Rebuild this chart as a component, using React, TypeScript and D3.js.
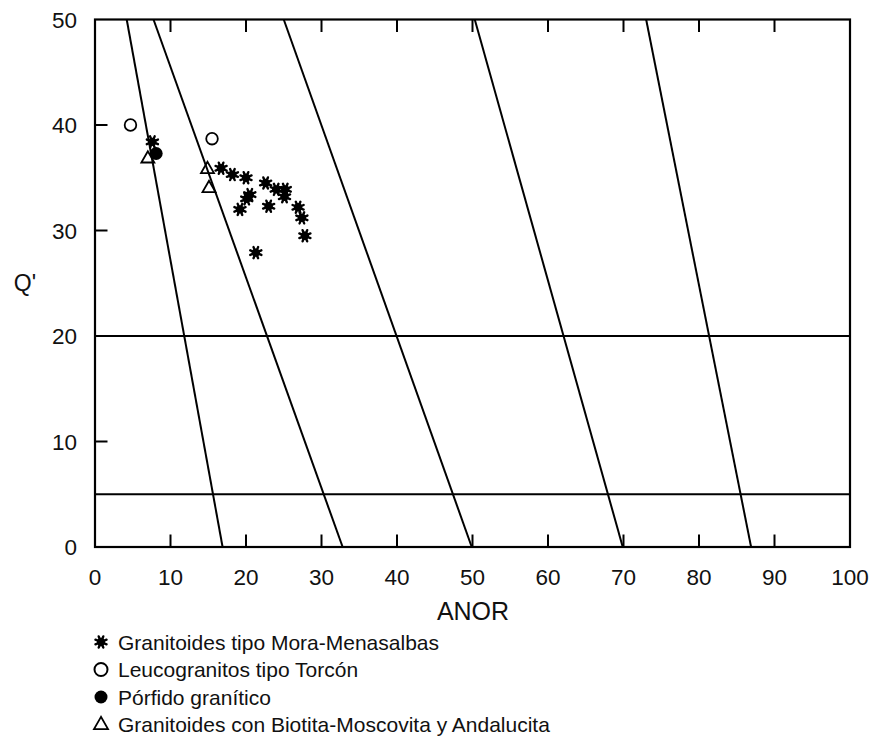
import React from "react";
import * as d3 from "d3";

// Field boundaries: ANOR value where each line meets Q'=50 (top) and Q'=0 (bottom)
const boundaryTop = [4.2, 7.75, 25.0, 50.3, 73.0];
const boundaryBottom = [16.9, 32.8, 49.9, 69.9, 86.9];
const horizontalQ = [20, 5];

const xTicks = [0, 10, 20, 30, 40, 50, 60, 70, 80, 90, 100];
const yTicks = [0, 10, 20, 30, 40, 50];

// [ANOR, Q']
const moraMenasalbas: [number, number][] = [
  [16.7, 35.9], [18.2, 35.3], [20.0, 35.0], [22.6, 34.5], [24.0, 33.9],
  [25.2, 33.9], [25.1, 33.2], [20.5, 33.4], [20.1, 33.0], [19.2, 32.0],
  [23.0, 32.3], [26.9, 32.2], [27.4, 31.2], [27.8, 29.5], [21.3, 27.9],
  [7.6, 38.4],
];
const torcon: [number, number][] = [[4.7, 40.0], [15.5, 38.7]];
const porfido: [number, number][] = [[8.1, 37.3]];
const biotitaMoscovita: [number, number][] = [[7.0, 36.8], [14.9, 35.8], [15.1, 34.0]];

const legendLabels = [
  "Granitoides tipo Mora-Menasalbas",
  "Leucogranitos tipo Torcón",
  "Pórfido granítico",
  "Granitoides con Biotita-Moscovita y Andalucita",
];

const W = 874;
const H = 738;
const left = 95;
const right = 850;
const top = 19.5;
const bottom = 547;
const font = "'Liberation Sans', Arial, Helvetica, sans-serif";

function Asterisk({ x, y, r = 6 }: { x: number; y: number; r?: number }) {
  const spokes = d3.range(8).map((i) => (i * Math.PI) / 4 + Math.PI / 8);
  return (
    <g>
      <circle cx={x} cy={y} r={r * 0.7} fill="#000" />
      {spokes.map((a, i) => (
        <line
          key={i}
          x1={x}
          y1={y}
          x2={x + r * Math.cos(a)}
          y2={y + r * Math.sin(a)}
          stroke="#000"
          strokeWidth={2.4}
          strokeLinecap="round"
        />
      ))}
    </g>
  );
}

function Triangle({ x, y, s = 13 }: { x: number; y: number; s?: number }) {
  const h = (s * Math.sqrt(3)) / 2;
  const pts = [
    [x, y - (2 * h) / 3],
    [x - s / 2, y + h / 3],
    [x + s / 2, y + h / 3],
  ];
  return <polygon points={pts.map((p) => p.join(",")).join(" ")} fill="none" stroke="#000" strokeWidth={1.8} />;
}

export default function App() {
  const x = d3.scaleLinear().domain([0, 100]).range([left, right]);
  const y = d3.scaleLinear().domain([0, 50]).range([bottom, top]);
  const tickLen = 12.5;

  const legendY = [642, 669.5, 697, 724];
  const legendX = 101;

  return (
    <div style={{ position: "absolute", left: 0, top: 0 }}>
      <svg width={W} height={H} style={{ display: "block", background: "#fff" }} fontFamily={font}>
        {/* field boundaries */}
        {boundaryTop.map((t, i) => (
          <line key={"b" + i} x1={x(t)} y1={y(50)} x2={x(boundaryBottom[i])} y2={y(0)} stroke="#000" strokeWidth={2} />
        ))}
        {horizontalQ.map((q) => (
          <line key={"h" + q} x1={x(0)} x2={x(100)} y1={y(q)} y2={y(q)} stroke="#000" strokeWidth={2} />
        ))}

        {/* ticks */}
        {xTicks.slice(1, -1).map((t) => (
          <g key={"xt" + t}>
            <line x1={x(t)} x2={x(t)} y1={y(0)} y2={y(0) - tickLen} stroke="#000" strokeWidth={2} />
            <line x1={x(t)} x2={x(t)} y1={y(50)} y2={y(50) + tickLen} stroke="#000" strokeWidth={2} />
          </g>
        ))}
        {yTicks.slice(1, -1).map((t) => (
          <line key={"yt" + t} x1={x(0)} x2={x(0) + tickLen} y1={y(t)} y2={y(t)} stroke="#000" strokeWidth={2} />
        ))}

        {/* frame */}
        <rect x={x(0)} y={y(50)} width={x(100) - x(0)} height={y(0) - y(50)} fill="none" stroke="#000" strokeWidth={2.2} />

        {/* tick labels */}
        {xTicks.map((t) => (
          <text key={"xl" + t} x={x(t)} y={y(0) + 38} textAnchor="middle" fontSize={22.5} fill="#111">
            {t}
          </text>
        ))}
        {yTicks.map((t) => (
          <text key={"yl" + t} x={77} y={y(t) + 8} textAnchor="end" fontSize={22.5} fill="#111">
            {t}
          </text>
        ))}

        {/* axis titles */}
        <text x={473} y={620} textAnchor="middle" fontSize={25} fill="#111">
          ANOR
        </text>
        <text x={25} y={291} textAnchor="middle" fontSize={23} fill="#111">
          Q'
        </text>

        {/* data */}
        {moraMenasalbas.map((d, i) => (
          <Asterisk key={"m" + i} x={x(d[0])} y={y(d[1])} />
        ))}
        {torcon.map((d, i) => (
          <circle key={"t" + i} cx={x(d[0])} cy={y(d[1])} r={5.8} fill="none" stroke="#000" strokeWidth={1.8} />
        ))}
        {porfido.map((d, i) => (
          <circle key={"p" + i} cx={x(d[0])} cy={y(d[1])} r={6.5} fill="#000" />
        ))}
        {biotitaMoscovita.map((d, i) => (
          <Triangle key={"bm" + i} x={x(d[0])} y={y(d[1])} />
        ))}

        {/* legend */}
        <Asterisk x={legendX} y={legendY[0]} r={6} />
        <circle cx={legendX} cy={legendY[1]} r={6.5} fill="none" stroke="#000" strokeWidth={2} />
        <circle cx={legendX} cy={legendY[2]} r={6.5} fill="#000" />
        <Triangle x={legendX} y={legendY[3] + 1} s={14} />
        {legendLabels.map((l, i) => (
          <text key={"lg" + i} x={118} y={legendY[i] + 7.5} fontSize={21} fill="#111">
            {l}
          </text>
        ))}
      </svg>
    </div>
  );
}
